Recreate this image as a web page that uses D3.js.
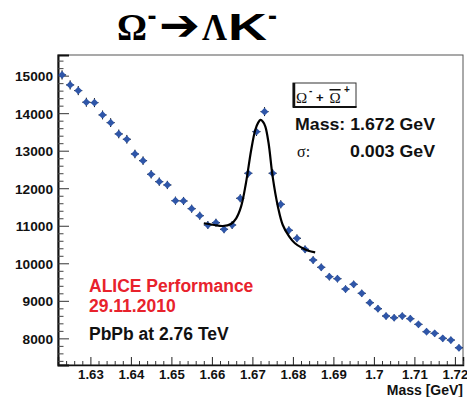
<!DOCTYPE html>
<html><head><meta charset="utf-8">
<script src="https://cdn.jsdelivr.net/npm/d3@7"></script>
<style>body{margin:0;background:#fff}svg{display:block}</style></head>
<body><svg id="c" width="467" height="397"></svg>
<script>
// ---- data ----
const massCenters = [1.623,1.625,1.627,1.629,1.631,1.633,1.635,1.637,1.639,1.641,
  1.643,1.645,1.647,1.649,1.651,1.653,1.655,1.657,1.659,1.661,
  1.663,1.665,1.667,1.669,1.671,1.673,1.675,1.677,1.679,1.681,
  1.683,1.685,1.687,1.689,1.691,1.693,1.695,1.697,1.699,1.701,
  1.703,1.705,1.707,1.709,1.711,1.713,1.715,1.717,1.719,1.721];
const counts = [15020,14753,14601,14292,14281,13953,13748,13447,13305,12913,
  12735,12372,12175,12087,11668,11660,11455,11268,11020,11082,
  10906,11020,11732,12399,13508,14041,12399,11572,10880,10666,
  10373,10087,9893,9642,9589,9314,9440,9200,8949,8789,
  8595,8549,8595,8523,8373,8176,8133,8000,7955,7749];
const fitMass = [1.6580,1.6606,1.6627,1.6647,1.6660,1.6672,1.6684,1.6697,1.6707,1.6714,
  1.6720,1.6726,1.6732,1.6740,1.6750,1.6763,1.6775,1.6791,1.6805,1.6822,1.6838,1.6855];
const fitValues = [11066,11020,10994,11047,11199,11508,12132,13020,13553,13740,
  13820,13770,13640,13198,12308,11508,11020,10709,10533,10415,10335,10293];
const xTickValues = [1.63,1.64,1.65,1.66,1.67,1.68,1.69,1.70,1.71,1.72];
const xTickLabels = ["1.63","1.64","1.65","1.66","1.67","1.68","1.69","1.7","1.71","1.72"];
const yTickValues = [8000,9000,10000,11000,12000,13000,14000,15000];
const yTickLabels = ["8000","9000","10000","11000","12000","13000","14000","15000"];
const binWidth = 0.002;

// ---- layout ----
const svg = d3.select("#c");
const L = 58, R = 463, T = 55, B = 365;
const x = d3.scaleLinear().domain([1.622, 1.722]).range([L, R]);
const y = d3.scaleLinear().domain([7290, 15550]).range([B, T]);
const sans = "'Liberation Sans', Arial, sans-serif";
const serif = "'Liberation Serif', 'Times New Roman', serif";

// frame
svg.append("rect").attr("x", L).attr("y", T).attr("width", R - L).attr("height", B - T)
  .attr("fill", "none").attr("stroke", "#555").attr("stroke-width", 1);

// x axis major
const xAxis = d3.axisBottom(x).tickValues(xTickValues).tickSize(-8)
  .tickFormat((d, i) => xTickLabels[i]);
const gx = svg.append("g").attr("transform", `translate(0,${B})`).call(xAxis);
gx.select(".domain").attr("stroke", "#111").attr("stroke-width", 1.5);
gx.selectAll(".tick line").attr("stroke", "#222");
gx.selectAll(".tick text").attr("y", 13.5).attr("dy", 0)
  .attr("font-family", sans).attr("font-weight", "bold").attr("font-size", 13.2).attr("fill", "#111");
// x minor
const xMinor = d3.range(1.622, 1.7221, binWidth).filter(v => !xTickValues.some(t => Math.abs(t - v) < 1e-6));
svg.append("g").attr("transform", `translate(0,${B})`)
  .call(d3.axisBottom(x).tickValues(xMinor).tickSize(-4).tickFormat(""))
  .call(g => { g.select(".domain").remove(); g.selectAll("line").attr("stroke", "#333"); });

// y axis major
const yAxis = d3.axisLeft(y).tickValues(yTickValues).tickSize(-11)
  .tickFormat((d, i) => yTickLabels[i]);
const gy = svg.append("g").attr("transform", `translate(${L},0)`).call(yAxis);
gy.select(".domain").attr("stroke", "#111").attr("stroke-width", 2);
gy.selectAll(".tick line").attr("stroke", "#333");
gy.selectAll(".tick text").attr("x", -5).attr("dy", "0.36em")
  .attr("font-family", sans).attr("font-weight", "bold").attr("font-size", 13.7).attr("fill", "#111");
// y minor
const yMinor = d3.range(7400, 15550, 200).filter(v => v % 1000 !== 0);
svg.append("g").attr("transform", `translate(${L},0)`)
  .call(d3.axisLeft(y).tickValues(yMinor).tickSize(-5.5).tickFormat(""))
  .call(g => { g.select(".domain").remove(); g.selectAll("line").attr("stroke", "#444"); });

// data points: error bars + diamonds
const pts = massCenters.map((m, i) => ({m, v: counts[i]}));
const gp = svg.append("g");
gp.selectAll(".ex").data(pts).join("line")
  .attr("x1", d => x(d.m - binWidth / 2)).attr("x2", d => x(d.m + binWidth / 2))
  .attr("y1", d => y(d.v)).attr("y2", d => y(d.v))
  .attr("stroke", "#000").attr("stroke-width", 1);
gp.selectAll(".ey").data(pts).join("line")
  .attr("x1", d => x(d.m)).attr("x2", d => x(d.m))
  .attr("y1", d => y(d.v - Math.sqrt(d.v))).attr("y2", d => y(d.v + Math.sqrt(d.v)))
  .attr("stroke", "#000").attr("stroke-width", 1);
const diamond = d3.symbol().type(d3.symbolSquare).size(30);
gp.selectAll("path").data(pts).join("path")
  .attr("d", diamond)
  .attr("transform", d => `translate(${x(d.m)},${y(d.v)}) rotate(45)`)
  .attr("fill", "#2f56a8");

// fit curve
const fitLine = d3.line().x((d, i) => x(fitMass[i])).y(d => y(d)).curve(d3.curveCatmullRom.alpha(0.5));
svg.append("path").attr("d", fitLine(fitValues)).attr("fill", "none")
  .attr("stroke", "#000").attr("stroke-width", 2.2);

// axis title
svg.append("text").attr("x", 463).attr("y", 394.5).attr("text-anchor", "end")
  .attr("font-family", sans).attr("font-weight", "bold").attr("font-size", 14).attr("fill", "#111")
  .text("Mass [GeV]");

// main title
const title = svg.append("g").attr("fill", "#000");
title.append("text").attr("x", 117).attr("y", 39.5).attr("font-size", 37).attr("font-family", serif)
  .attr("font-weight", "bold").attr("textLength", 30).attr("lengthAdjust", "spacingAndGlyphs").text("Ω");
title.append("text").attr("x", 147.5).attr("y", 25).attr("font-family", sans).attr("font-weight", "bold")
  .attr("font-size", 28).attr("textLength", 9).attr("lengthAdjust", "spacingAndGlyphs").text("-");
title.append("text").attr("x", 159).attr("y", 40).attr("font-family", "'DejaVu Sans'").attr("font-weight", "bold")
  .attr("font-size", 44).attr("textLength", 41).attr("lengthAdjust", "spacingAndGlyphs").text("➔");
title.append("text").attr("x", 202).attr("y", 39.5).attr("font-size", 37).attr("font-family", serif)
  .attr("font-weight", "bold").attr("textLength", 25).attr("lengthAdjust", "spacingAndGlyphs").text("Λ");
title.append("text").attr("x", 228).attr("y", 39.5).attr("font-size", 37).attr("font-family", sans)
  .attr("font-weight", "bold").attr("textLength", 39).attr("lengthAdjust", "spacingAndGlyphs").text("K");
title.append("text").attr("x", 268).attr("y", 25).attr("font-family", sans).attr("font-weight", "bold")
  .attr("font-size", 28).attr("textLength", 9).attr("lengthAdjust", "spacingAndGlyphs").text("-");

// legend box
svg.append("rect").attr("x", 293).attr("y", 83).attr("width", 63).attr("height", 24)
  .attr("fill", "#fff").attr("stroke", "#333").attr("stroke-width", 1);
svg.append("line").attr("x1", 294).attr("x2", 294).attr("y1", 83).attr("y2", 108)
  .attr("stroke", "#111").attr("stroke-width", 2.5);
svg.append("line").attr("x1", 293).attr("x2", 356.5).attr("y1", 107).attr("y2", 107)
  .attr("stroke", "#111").attr("stroke-width", 2);
const leg = svg.append("text").attr("y", 103).attr("font-size", 15).attr("fill", "#111");
leg.append("tspan").attr("x", 296).attr("font-family", serif).text("Ω");
leg.append("tspan").attr("x", 309).attr("y", 94).attr("font-family", sans).attr("font-size", 10).attr("font-weight", "bold").text("-");
leg.append("tspan").attr("x", 316).attr("y", 102).attr("font-family", sans).attr("font-size", 13).attr("font-weight", "bold").text("+");
leg.append("tspan").attr("x", 329.5).attr("y", 103).attr("font-family", serif).attr("text-decoration", "overline").text("Ω");
leg.append("tspan").attr("x", 344).attr("y", 93).attr("font-family", sans).attr("font-size", 10).attr("font-weight", "bold").text("+");

// fit results
svg.append("text").attr("x", 295).attr("y", 130).attr("font-family", sans).attr("font-weight", "bold")
  .attr("font-size", 16).attr("textLength", 140).attr("lengthAdjust", "spacingAndGlyphs").attr("fill", "#111")
  .text("Mass: 1.672 GeV");
svg.append("text").attr("x", 297).attr("y", 157).attr("font-family", serif)
  .attr("font-size", 16).attr("fill", "#111").text("σ:");
svg.append("text").attr("x", 350).attr("y", 157).attr("font-family", sans).attr("font-weight", "bold")
  .attr("font-size", 16).attr("textLength", 85).attr("lengthAdjust", "spacingAndGlyphs").attr("fill", "#111")
  .text("0.003 GeV");

// labels
svg.append("text").attr("x", 89).attr("y", 291.5).attr("font-family", sans).attr("font-weight", "bold")
  .attr("font-size", 17.5).attr("fill", "#e8222c").text("ALICE Performance");
svg.append("text").attr("x", 89).attr("y", 311.5).attr("font-family", sans).attr("font-weight", "bold")
  .attr("font-size", 17.5).attr("fill", "#e8222c").text("29.11.2010");
svg.append("text").attr("x", 89).attr("y", 339.5).attr("font-family", sans).attr("font-weight", "bold")
  .attr("font-size", 17.5).attr("fill", "#111").text("PbPb at 2.76 TeV");
</script></body></html>
